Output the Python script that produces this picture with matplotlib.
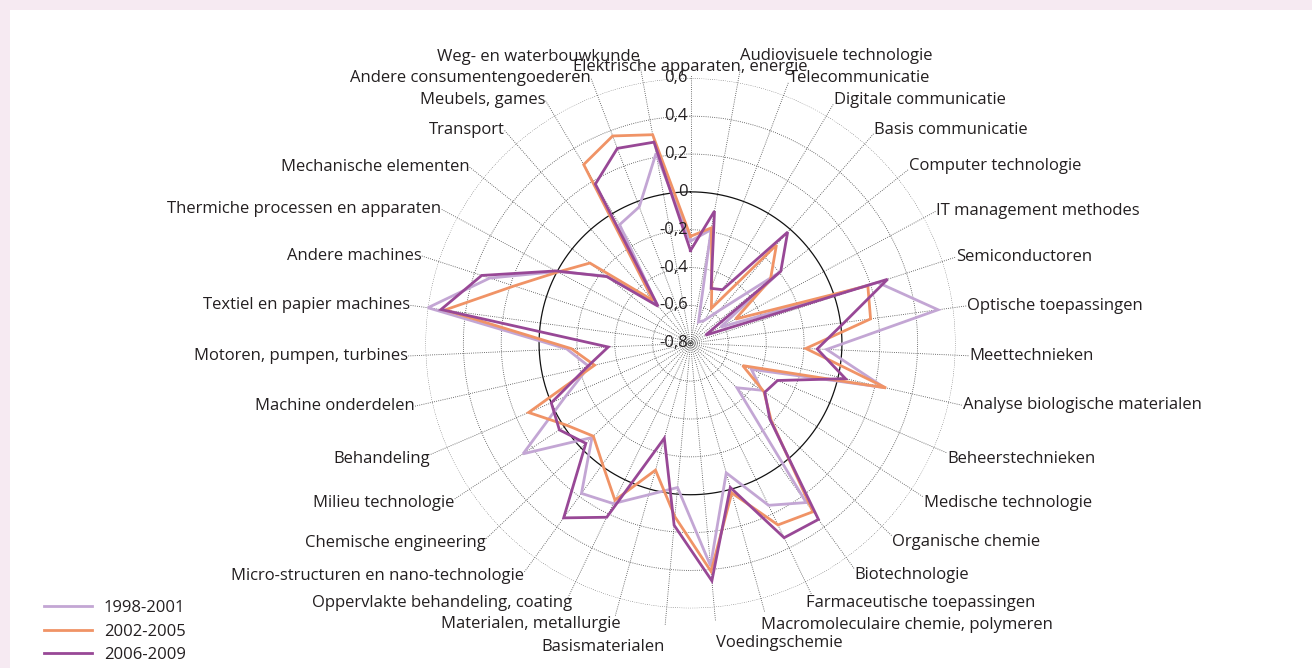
import numpy as np
import matplotlib
matplotlib.use("Agg")
import matplotlib.pyplot as plt
from matplotlib.patches import Rectangle

plt.rcParams['font.family'] = ['Open Sans', 'DejaVu Sans']

categories = [
    "Elektrische apparaten, energie", "Audiovisuele technologie", "Telecommunicatie",
    "Digitale communicatie", "Basis communicatie", "Computer technologie",
    "IT management methodes", "Semiconductoren", "Optische toepassingen",
    "Meettechnieken", "Analyse biologische materialen", "Beheerstechnieken",
    "Medische technologie", "Organische chemie", "Biotechnologie",
    "Farmaceutische toepassingen", "Macromoleculaire chemie, polymeren",
    "Voedingschemie", "Basismaterialen", "Materialen, metallurgie",
    "Oppervlakte behandeling, coating", "Micro-structuren en nano-technologie",
    "Chemische engineering", "Milieu technologie", "Behandeling",
    "Machine onderdelen", "Motoren, pumpen, turbines", "Textiel en papier machines",
    "Andere machines", "Thermiche processen en apparaten", "Mechanische elementen",
    "Transport", "Meubels, games", "Andere consumentengoederen",
    "Weg- en waterbouwkunde",
]

series_names = ["1998-2001", "2002-2005", "2006-2009"]

values_1998_2001 = [
    -0.26, -0.19, -0.68, -0.66, -0.57, -0.20, -0.62, 0.24, 0.52, -0.08,
    0.25, -0.45, -0.35, -0.46, 0.24, 0.15, -0.09, 0.38, -0.035, 0.03,
    0.14, 0.18, -0.08, 0.26, -0.08, -0.25, -0.145, 0.60, 0.315, 0.0,
    -0.23, -0.53, -0.07, -0.03, 0.22,
]
values_2002_2005 = [
    -0.235, -0.18, -0.48, -0.585, -0.11, -0.26, -0.53, 0.185, 0.16, -0.19,
    0.26, -0.50, -0.335, -0.21, 0.30, 0.265, 0.02, 0.41, 0.12, -0.105,
    0.12, -0.01, -0.09, -0.015, 0.13, -0.28, -0.17, 0.51, 0.18, -0.005,
    -0.12, -0.50, 0.30, 0.37, 0.32,
]
values_2006_2009 = [
    -0.31, -0.09, -0.49, -0.47, -0.02, -0.19, -0.71, 0.295, 0.02, -0.13,
    0.04, -0.30, -0.33, -0.22, 0.35, 0.34, -0.01, 0.46, 0.165, -0.28,
    0.22, 0.34, -0.035, 0.03, 0.0, -0.24, -0.365, 0.53, 0.36, 0.007,
    -0.235, -0.54, 0.18, 0.30, 0.28,
]

ring_values = [-0.6, -0.4, -0.2, 0.0, 0.2, 0.4, 0.6]
tick_labels = ["-0,8", "-0,6", "-0,4", "-0,2", "0", "0,2", "0,4", "0,6"]
tick_values = [-0.8, -0.6, -0.4, -0.2, 0.0, 0.2, 0.4, 0.6]

colors = ["#c3a6d4", "#f09366", "#984896"]
text_color = "#231f20"
grid_color = "#444444"

W, H = 1312, 668
fig = plt.figure(figsize=(W / 100, H / 100), dpi=100)
fig.patch.set_facecolor("#f6eaf2")
fig.patches.append(Rectangle((10 / W, 0), 1, (H - 10) / H, transform=fig.transFigure,
                             facecolor="white", edgecolor="none", zorder=-5))

cx, cy, R = 690.5, 343.3, 265.0
ax = fig.add_axes([(cx - R) / W, (H - cy - R) / H, 2 * R / W, 2 * R / H], projection="polar")
ax.set_zorder(2)
ax.patch.set_visible(False)
ax.set_theta_zero_location("N")
ax.set_theta_direction(-1)
rmin, rmax = -0.8, 0.6
ax.set_ylim(rmin, rmax)
ax.grid(False)
ax.spines["polar"].set_visible(False)
ax.set_xticks([])
ax.set_yticks([])

n = len(categories)
theta = np.arange(n) * 2 * np.pi / n

# rings
tt = np.linspace(0, 2 * np.pi, 721)
for v in ring_values:
    if v == 0.0:
        ax.plot(tt, np.full_like(tt, v), color="#111111", lw=0.9, zorder=1)
    else:
        ax.plot(tt, np.full_like(tt, v), color=grid_color, lw=0.6,
                linestyle=(0, (1, 1.6)), zorder=1)

# spokes + category labels
for k, (th, name) in enumerate(zip(theta, categories)):
    deg = np.degrees(th)
    s = np.sin(th)
    r_end = 0.675 if s > 0 else 0.695
    if k == 0:
        r_end = 0.62
    ax.plot([th, th], [rmin, r_end], color=grid_color, lw=0.6,
            linestyle=(0, (1, 1.6)), clip_on=False, zorder=1)
    if abs(s) < 0.02:
        ha = "center"
    elif s > 0:
        ha = "left"
    else:
        ha = "right"
    if deg < 15 or deg > 345:
        va = "bottom"
    elif 150 < deg < 210:
        va = "top"
    else:
        va = "center"
    dx, dy = 0, 0
    if 5 < deg < 15:
        dy = 3
    elif 15 <= deg < 60:
        dy = 2.5
    elif 105 < deg < 150:
        dy = -4
    elif 210 < deg < 255:
        dy = -3
    if 170 < deg < 190:
        dy = -10
    elif 160 < deg < 170:
        dx, dy = -3, -3
    elif 190 < deg < 200:
        dx = 4
    elif 150 < deg < 160:
        dx = -4
    elif 200 < deg < 210:
        dx, dy = 3, 2
    ax.annotate(name, xy=(th, r_end), xytext=(dx, dy), textcoords="offset points",
                ha=ha, va=va, fontsize=12, color=text_color, annotation_clip=False)

# series
series = [values_1998_2001, values_2002_2005, values_2006_2009]
handles = []
for vals, col, lab in zip(series, colors, series_names):
    vv = np.array(vals + vals[:1])
    th = np.concatenate([theta, theta[:1]])
    h, = ax.plot(th, vv, color=col, lw=2.0, label=lab, zorder=3,
                 solid_joinstyle="miter", clip_on=False)
    handles.append(h)

# radial tick labels along top spoke
for v, t in zip(tick_values, tick_labels):
    ax.annotate(t, xy=(0, v), xytext=(-2, 0), textcoords="offset points",
                ha="right", va="center", fontsize=12, color=text_color, zorder=5,
                annotation_clip=False)

fig.legend(handles=handles, labels=series_names, loc="upper left",
           bbox_to_anchor=(44 / W, (H - 600) / H), frameon=False, fontsize=12,
           handlelength=2.9, handletextpad=0.7, labelspacing=0.45, borderpad=0,
           borderaxespad=0, labelcolor=text_color)

fig.savefig("out.png", dpi=100, facecolor=fig.get_facecolor())
